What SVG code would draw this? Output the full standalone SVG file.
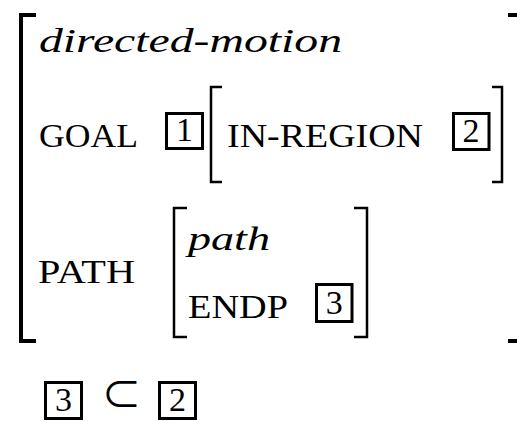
<svg xmlns="http://www.w3.org/2000/svg" width="517" height="421" viewBox="0 0 517 421">
<style>
  .t { font-family: 'Liberation Serif', 'DejaVu Serif', 'Times New Roman', serif; font-size: 33px; fill: #000; }
  .n { font-family: 'Liberation Serif', 'DejaVu Serif', serif; font-size: 34px; fill: #000; text-anchor: middle; }
  .sym { font-family: 'Noto Sans CJK JP', 'DejaVu Sans', sans-serif; font-size: 40px; fill: #000; text-anchor: middle; }
  .i { font-style: italic; }
  .box { fill: none; stroke: #000; stroke-width: 3; }
  .br { fill: none; stroke: #000; stroke-width: 2.5; }
  .bro { fill: none; stroke: #000; stroke-width: 4; }
</style>
<rect width="517" height="421" fill="#fff"/>
<g id="outer-avm">
  <path class="bro" d="M36 15 H21 V341 H36"/>
  <path class="bro" d="M508 15 H520 M508 341 H520"/>
  <text class="t i" x="39" y="52" textLength="303" lengthAdjust="spacingAndGlyphs">directed-motion</text>
</g>
<g id="goal-row">
  <text class="t" x="39" y="147" textLength="99" lengthAdjust="spacingAndGlyphs">GOAL</text>
  <rect class="box" x="166.5" y="113.5" width="36" height="35"/>
  <text class="n" x="184.5" y="141">1</text>
</g>
<g id="goal-value">
  <path class="br" d="M222 87 H211 V182 H222"/>
  <path class="br" d="M492 87 H502 V182 H492"/>
  <text class="t" x="227" y="147" textLength="196" lengthAdjust="spacingAndGlyphs">IN-REGION</text>
  <rect class="box" x="453.5" y="113.5" width="35.5" height="36"/>
  <text class="n" x="471" y="142">2</text>
</g>
<g id="path-row">
  <text class="t" x="38" y="283" textLength="97" lengthAdjust="spacingAndGlyphs">PATH</text>
</g>
<g id="path-value">
  <path class="br" d="M187 208 H174 V337 H187"/>
  <path class="br" d="M354 208 H367 V337 H354"/>
  <text class="t i" x="188" y="250" textLength="82" lengthAdjust="spacingAndGlyphs">path</text>
  <text class="t" x="188" y="318" textLength="100" lengthAdjust="spacingAndGlyphs">ENDP</text>
  <rect class="box" x="316.5" y="284.5" width="35.5" height="37"/>
  <text class="n" x="334.2" y="314">3</text>
</g>
<g id="constraint">
  <rect class="box" x="45.5" y="382.5" width="36" height="36"/>
  <text class="n" x="63.5" y="411">3</text>
  <text class="sym" x="121.5" y="409">⊂</text>
  <rect class="box" x="159.5" y="382.5" width="36" height="36"/>
  <text class="n" x="177.5" y="411">2</text>
</g>
</svg>
